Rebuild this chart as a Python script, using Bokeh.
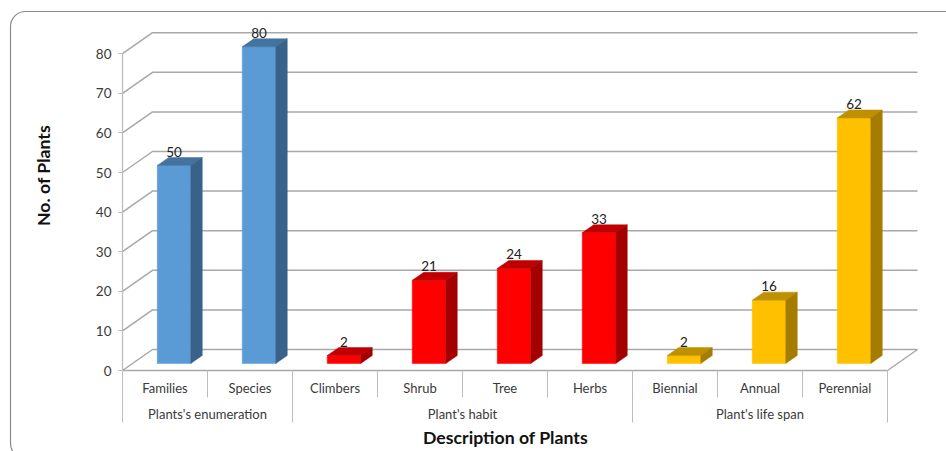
from bokeh.core.properties import value
from bokeh.embed import file_html
from bokeh.models import BoxAnnotation, FixedTicker, LinearAxis, Range1d
from bokeh.plotting import figure
from bokeh.resources import INLINE

# Chart data
categories = ["Families", "Species", "Climbers", "Shrub", "Tree", "Herbs", "Biennial", "Annual", "Perennial"]
counts = [50, 80, 2, 21, 24, 33, 2, 16, 62]
group_names = ["Plants's enumeration", "Plant's habit", "Plant's life span"]
group_sizes = [2, 4, 3]
y_ticks = [0, 10, 20, 30, 40, 50, 60, 70, 80]

# Face colours per group: front, top, side
group_colours = [
    ("#5b9bd5", "#44739f", "#38628a"),
    ("#ff0000", "#c00000", "#a50000"),
    ("#ffc000", "#bf9000", "#a67c00"),
]

W, H = 946, 451
PX_PER_CAT = 85.0
PX_PER_UNIT = 3.96
LEFT_PX, FLOOR_PX = 122.0, 370.0


def cat_px(px):
    return px / PX_PER_CAT


def val_px(px):
    return px / PX_PER_UNIT


p = figure(
    width=W, height=H, output_backend="svg", toolbar_location=None,
    x_range=Range1d(-LEFT_PX / PX_PER_CAT, (W - LEFT_PX) / PX_PER_CAT),
    y_range=Range1d((FLOOR_PX - H) / PX_PER_UNIT, FLOOR_PX / PX_PER_UNIT),
    min_border=0, x_axis_type=None, y_axis_type=None,
)
p.outline_line_color = None
p.background_fill_color = "white"
p.grid.visible = False

# Rounded panel border running off the right and bottom edges
p.add_layout(BoxAnnotation(
    left=10, right=W + 40, top=H - 11, bottom=-7,
    left_units="screen", right_units="screen", top_units="screen", bottom_units="screen",
    fill_alpha=0, line_color="#8a8a8a", line_alpha=1, line_width=1.2, border_radius=15,
))

GRID = "#a8a8a8"
AXIS = "#bdbdbd"
TEXT = "#3a3a3a"
FONT = "Lato"

n = len(categories)
wall_dx, wall_dy = cat_px(30), val_px(21)

# Back wall gridlines and the oblique lines joining them to the value axis
p.multi_line(
    xs=[[0, wall_dx, n + wall_dx] for _ in y_ticks],
    ys=[[v, v + wall_dy, v + wall_dy] for v in y_ticks],
    line_color=GRID, line_width=1.5,
)
# Right edge of the floor
p.line([n, n + wall_dx], [0, wall_dy], line_color=GRID, line_width=1.5)

# Value axis
y_axis = LinearAxis(
    fixed_location=0, bounds=(0, 80), ticker=FixedTicker(ticks=y_ticks),
    axis_line_color=AXIS, axis_line_width=1.3,
    major_tick_line_color=AXIS, major_tick_out=4, major_tick_in=0, minor_tick_line_color=None,
    major_label_text_font=FONT, major_label_text_font_size="13.5px",
    major_label_text_color=TEXT, major_label_standoff=7,
)
p.add_layout(y_axis, "left")

# Category level of the horizontal axis; the minor ticks act as cell separators
x_axis = LinearAxis(
    fixed_location=0, bounds=(0, n),
    ticker=FixedTicker(ticks=[i + 0.5 for i in range(n)], minor_ticks=list(range(n + 1))),
    major_label_overrides={i + 0.5: c for i, c in enumerate(categories)},
    axis_line_color=GRID, axis_line_width=1.5,
    major_tick_line_color=None, major_tick_out=0, major_tick_in=0,
    minor_tick_line_color=AXIS, minor_tick_out=27, minor_tick_in=0,
    major_label_text_font=FONT, major_label_text_font_size="13px",
    major_label_text_color=TEXT, major_label_standoff=-18,
)
p.add_layout(x_axis, "below")

# Group level of the horizontal axis
starts, pos = [], 0
for size in group_sizes:
    starts.append(pos)
    pos += size
group_centres = [s + size / 2 for s, size in zip(starts, group_sizes)]
group_axis = LinearAxis(
    fixed_location=0, bounds=(0, n),
    ticker=FixedTicker(ticks=group_centres, minor_ticks=starts + [n]),
    major_label_overrides={c: g for c, g in zip(group_centres, group_names)},
    axis_line_color=None,
    major_tick_line_color=None, major_tick_out=0, major_tick_in=0,
    minor_tick_line_color=AXIS, minor_tick_out=52, minor_tick_in=0,
    major_label_text_font=FONT, major_label_text_font_size="13px",
    major_label_text_color=TEXT, major_label_standoff=-17,
)
p.add_layout(group_axis, "below")

# Bars as three-faced oblique prisms standing on the floor
bar_dx, bar_dy = cat_px(11.5), val_px(8)
bar_w = cat_px(33.5)
bar_shift = cat_px(9)
bar_base = val_px(7)

bar_colours = [cols for cols, size in zip(group_colours, group_sizes) for _ in range(size)]
left = [i + 0.5 + bar_shift - bar_w / 2 for i in range(n)]
right = [x + bar_w for x in left]
top = [bar_base + v for v in counts]

p.quad(left=left, right=right, bottom=bar_base, top=top,
       fill_color=[c[0] for c in bar_colours], line_color=[c[0] for c in bar_colours], line_width=0.5)
p.patches(
    xs=[[l, r, r + bar_dx, l + bar_dx] for l, r in zip(left, right)],
    ys=[[t, t, t + bar_dy, t + bar_dy] for t in top],
    fill_color=[c[1] for c in bar_colours], line_color=[c[1] for c in bar_colours], line_width=0.5,
)
p.patches(
    xs=[[r, r + bar_dx, r + bar_dx, r] for r in right],
    ys=[[bar_base, bar_base + bar_dy, t + bar_dy, t] for t in top],
    fill_color=[c[2] for c in bar_colours], line_color=[c[2] for c in bar_colours], line_width=0.5,
)

# Value labels above each bar
p.text(
    x=[(l + r) / 2 for l, r in zip(left, right)],
    y=[t + bar_dy for t in top],
    text=[str(v) for v in counts],
    text_align="center", text_baseline="bottom", y_offset=-1,
    text_font=value(FONT), text_font_size="13.5px", text_color="#222222",
)

# Axis titles
p.text(x=[cat_px(43 - LEFT_PX)], y=[val_px(FLOOR_PX - 175)], text=["No. of Plants"], angle=1.5708,
       text_align="center", text_baseline="middle",
       text_font=value(FONT), text_font_size="17.7px", text_font_style="bold", text_color="#111111")
p.text(x=[cat_px(505 - LEFT_PX)], y=[val_px(FLOOR_PX - 437)], text=["Description of Plants"],
       text_align="center", text_baseline="middle",
       text_font=value(FONT), text_font_size="17.7px", text_font_style="bold", text_color="#111111")

open("out.html", "w").write(file_html(p, INLINE))
